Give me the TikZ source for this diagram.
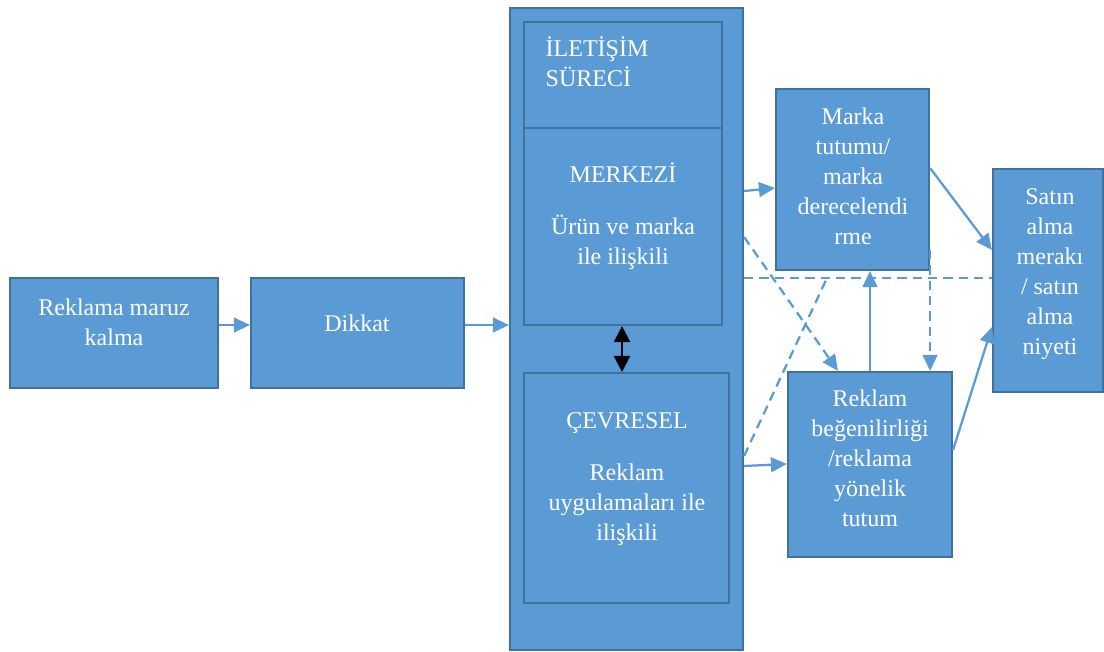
\documentclass[tikz,border=0pt]{standalone}
\usepackage{fontspec}
\setmainfont{Liberation Serif}
\usetikzlibrary{arrows.meta,fit,calc}

\definecolor{boxfill}{HTML}{5B9BD5}
\definecolor{boxline}{HTML}{41719C}

\begin{document}
\begin{tikzpicture}[x=0.75pt,y=-0.75pt]
		\tikzset{blk/.style={draw=boxline, fill=boxfill, line width=1.6pt, inner sep=0pt},
			txt/.style={text=white, align=center, font=\fontsize{18}{22.5}\selectfont},
			tip/.style={-{Triangle[length=12pt,width=11pt]}},
			arr/.style={draw=boxfill, line width=1.7pt, tip},
			dsh/.style={draw=boxfill, line width=1.7pt, dash pattern=on 7pt off 4.5pt}}
		\useasboundingbox (0,0) rectangle (1104,652);
		% left chain
		\node[blk, fit={(10,278) (218,388)}] (expo) {};
		\node[blk, fit={(251,278) (464,388)}] (dikkat) {};
		\node[txt] at (114,322) {Reklama maruz\\kalma};
		\node[txt] at (357,323) {Dikkat};
		% communication process block
		\node[blk, fit={(510,8) (743,650)}] (surec) {};
		\node[blk, fit={(524,22) (722,128)}] (iletisim) {};
		\node[blk, fit={(524,128) (722,325)}] (merkez) {};
		\node[blk, fit={(524,373) (729,603)}] (cevre) {};
		\node[txt, align=left, anchor=west] at (541,62) {İLETİŞİM\\SÜRECİ};
		\node[txt] at (623,216) {MERKEZİ\\[16pt]Ürün ve marka\\ile ilişkili};
		\node[txt] at (627,479) {ÇEVRESEL\\[16pt]Reklam\\uygulamaları ile\\ilişkili};
		\draw[line width=1.8pt, {Triangle[length=12pt,width=12pt]}-{Triangle[length=12pt,width=12pt]}] (merkez.south -| 622,0) -- (cevre.north -| 622,0);
		% attitudes and intention
		\node[blk, fit={(776,89) (929,270)}] (marka) {};
		\node[blk, fit={(788,372) (952,557)}] (begeni) {};
		\node[blk, fit={(993,169) (1103,392)}] (satin) {};
		\node[txt] at (853,176) {Marka\\tutumu/\\marka\\derecelendi\\rme};
		\node[txt] at (870,458) {Reklam\\beğenilirliği\\/reklama\\yönelik\\tutum};
		\node[txt] at (1050,274) {Satın\\alma\\merakı\\/ satın\\alma\\niyeti};
		\coordinate (meet) at (827,278);
		% solid links
		\draw[arr] (expo.east |- 0,325) -- (dikkat.west |- 0,325);
		\draw[arr] (dikkat.east |- 0,325) -- (surec.west |- 0,325);
		\draw[arr] (surec.east |- 0,191) -- (marka.west |- 0,188);
		\draw[arr] (surec.east |- 0,466) -- (begeni.west |- 0,464);
		\draw[arr] (marka.east |- 0,168) -- (satin.west |- 0,250);
		\draw[arr] (begeni.east |- 0,450) -- (satin.west |- 0,327);
		\draw[arr] (begeni.north) -- (begeni.north |- marka.south);
		% dashed links
		\draw[dsh] (surec.east |- 0,278) -- (satin.west |- 0,278);
		\draw[dsh] (surec.east |- 0,456) -- (meet);
		\draw[dsh, arr] (surec.east |- 0,237) -- ($(begeni.north)+(-32,0)$);
		\draw[dsh, arr] (marka.east |- 0,250) -- (marka.east |- begeni.north);
\end{tikzpicture}
\end{document}
